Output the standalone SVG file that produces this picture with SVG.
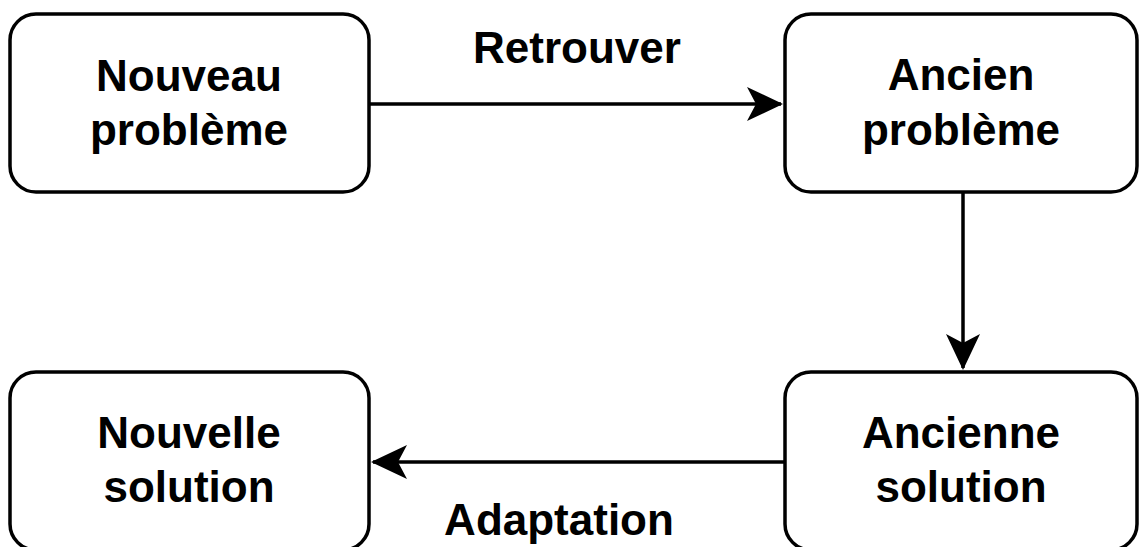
<svg xmlns="http://www.w3.org/2000/svg" width="1140" height="547" viewBox="0 0 1140 547">
  <style>
    .box { fill: #ffffff; stroke: #000000; stroke-width: 3.5; }
    .lbl { font-family: "Liberation Sans", Arial, Helvetica, sans-serif; font-weight: bold; font-size: 44px; fill: #000000; text-anchor: middle; }
    .edge { fill: none; stroke: #000000; stroke-width: 3.5; }
  </style>
  <defs>
    <marker id="arrow" viewBox="0 0 36 34" refX="34" refY="17" markerWidth="36" markerHeight="34" markerUnits="userSpaceOnUse" orient="auto">
      <path d="M36,17 L0,0 L9,17 L0,34 Z" fill="#000000"/>
    </marker>
  </defs>
  <rect width="1140" height="547" fill="#ffffff"/>

  <g id="connectors">
    <path class="edge" d="M369,104 L781,104" marker-end="url(#arrow)"/>
    <path class="edge" d="M963,192 L963,368" marker-end="url(#arrow)"/>
    <path class="edge" d="M785,462 L373,462" marker-end="url(#arrow)"/>
    <text class="lbl" x="577" y="63">Retrouver</text>
    <text class="lbl" x="559" y="535">Adaptation</text>
  </g>

  <g id="nouveau-probleme">
    <rect class="box" x="10" y="14" width="359" height="178" rx="26" ry="26"/>
    <text class="lbl" x="189" y="91">Nouveau</text>
    <text class="lbl" x="189" y="145">problème</text>
  </g>

  <g id="ancien-probleme">
    <rect class="box" x="785" y="14" width="352" height="178" rx="26" ry="26"/>
    <text class="lbl" x="961" y="90">Ancien</text>
    <text class="lbl" x="961" y="145">problème</text>
  </g>

  <g id="nouvelle-solution">
    <rect class="box" x="10" y="372" width="359" height="178" rx="26" ry="26"/>
    <text class="lbl" x="189" y="448">Nouvelle</text>
    <text class="lbl" x="189" y="502">solution</text>
  </g>

  <g id="ancienne-solution">
    <rect class="box" x="785" y="372" width="352" height="178" rx="26" ry="26"/>
    <text class="lbl" x="961" y="448">Ancienne</text>
    <text class="lbl" x="961" y="502">solution</text>
  </g>
</svg>
